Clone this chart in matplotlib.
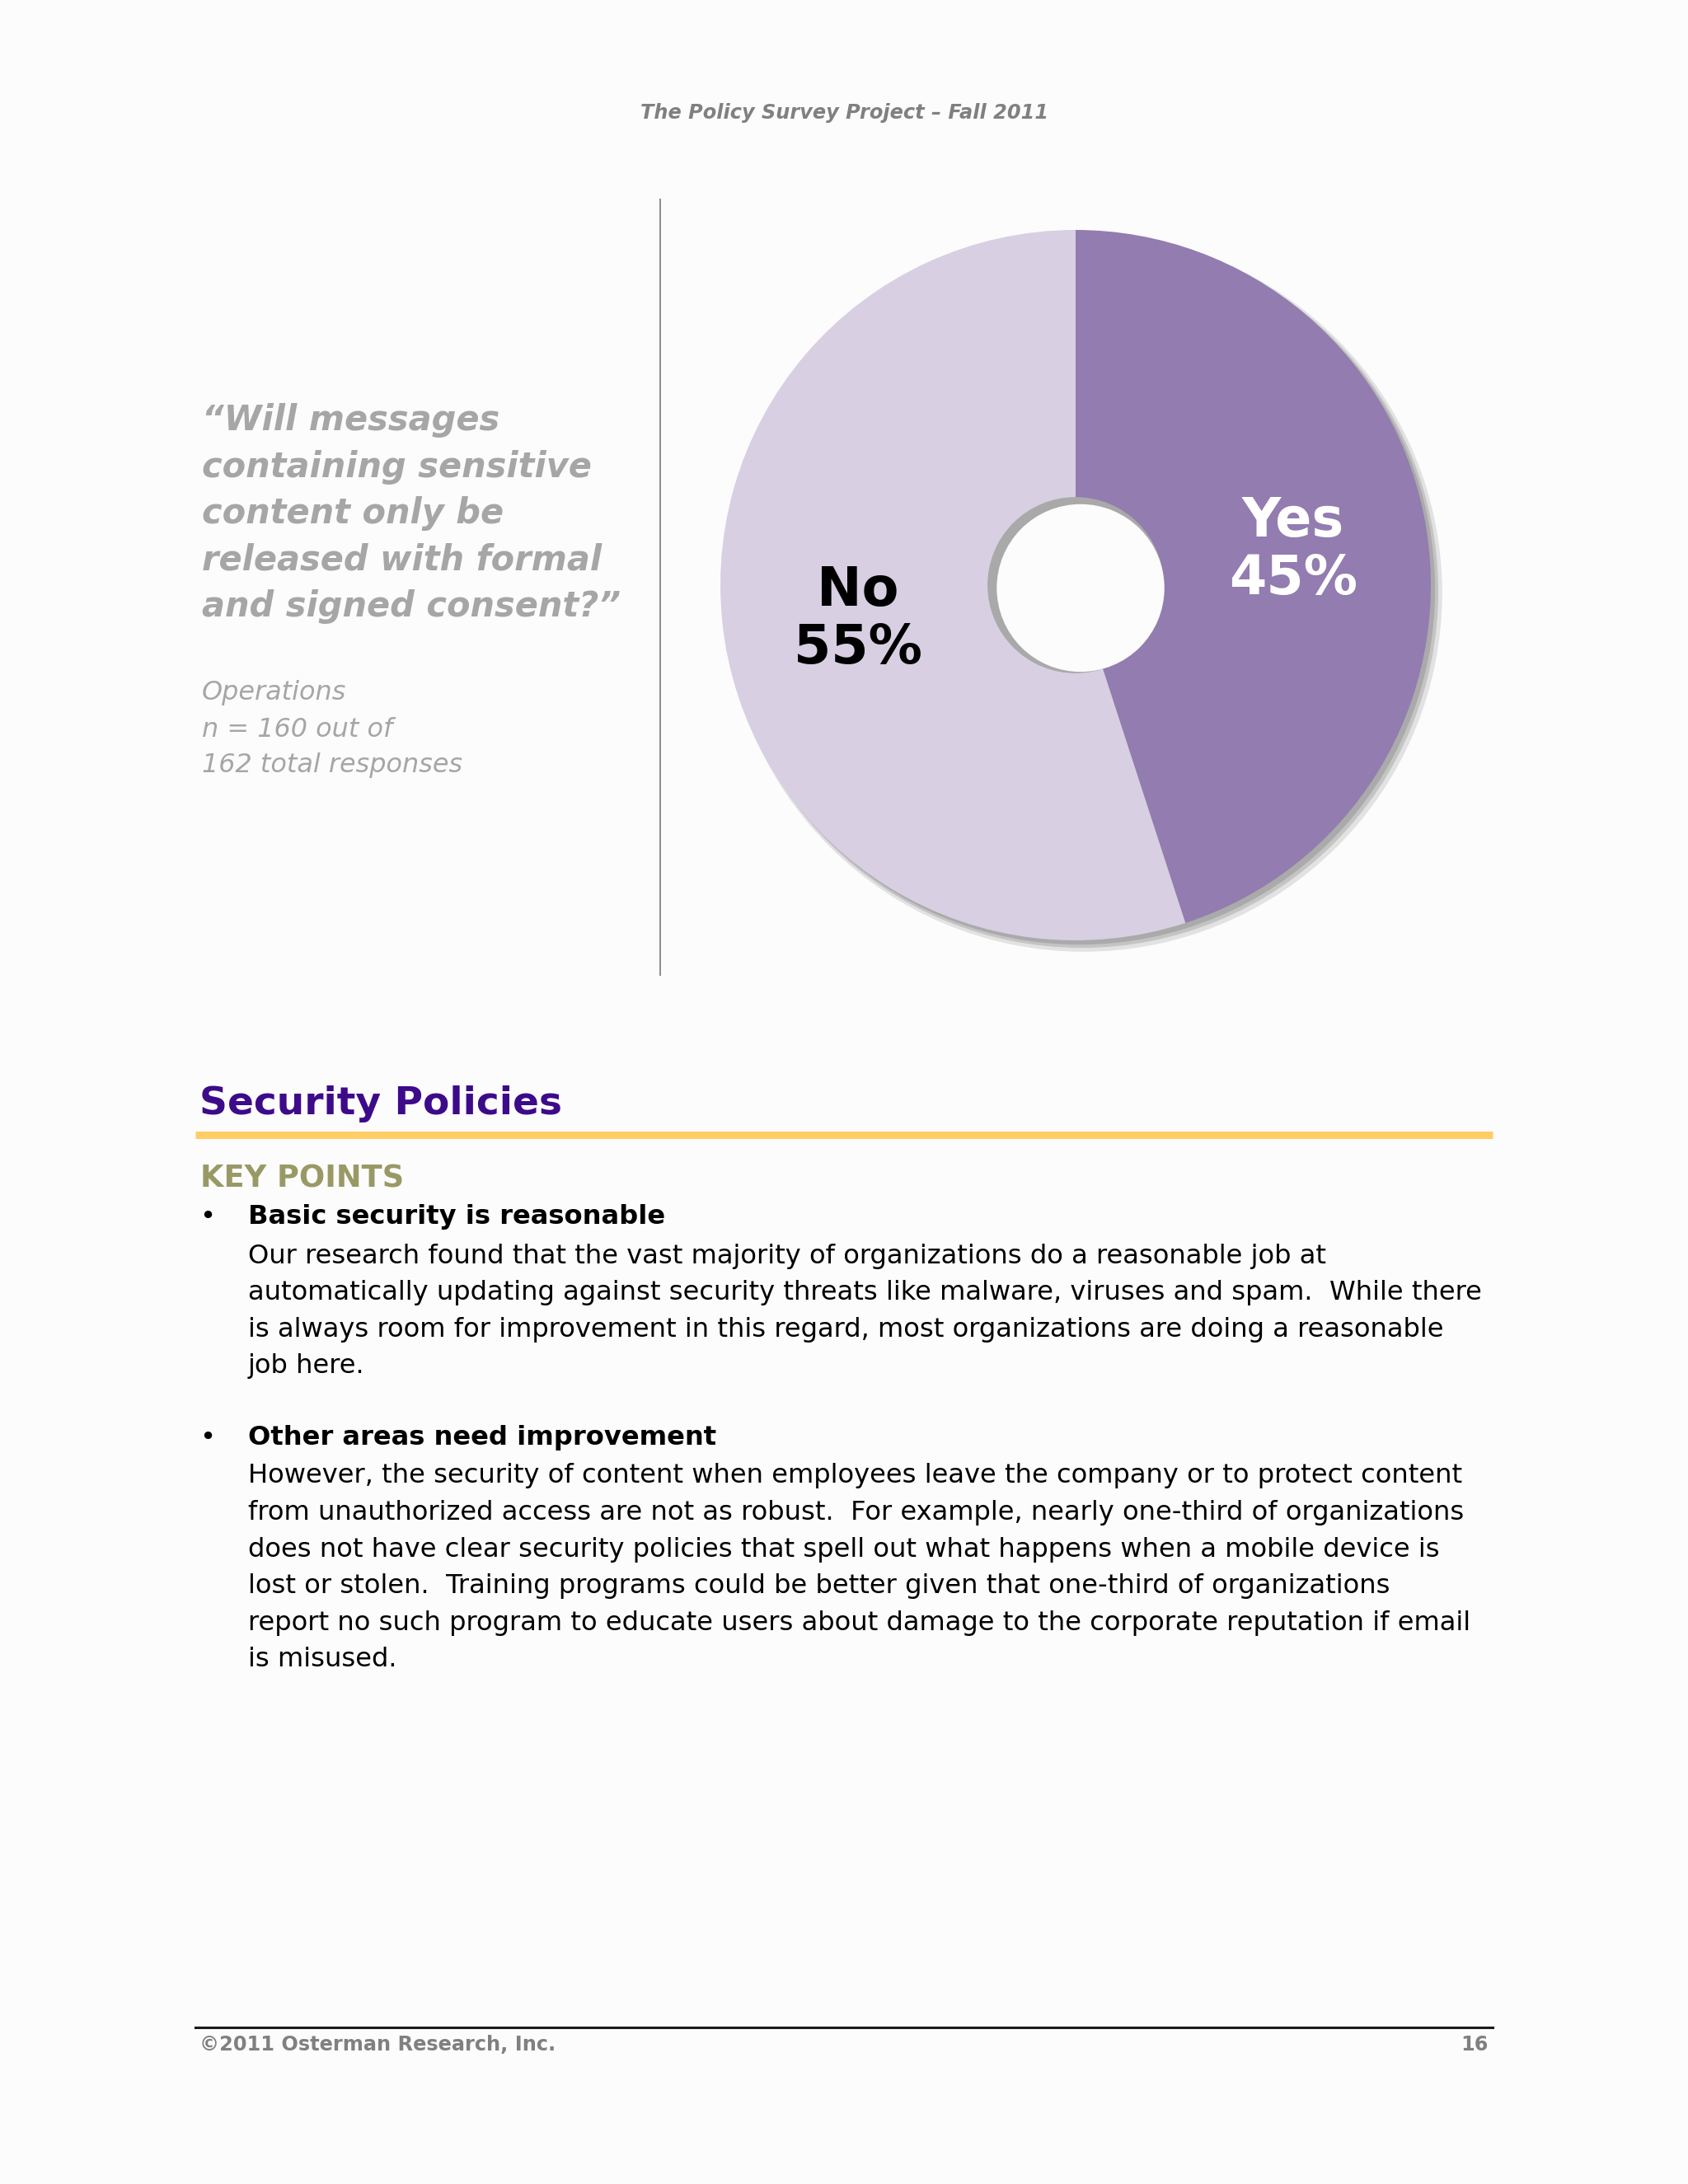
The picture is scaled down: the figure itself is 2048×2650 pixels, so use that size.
import numpy as np
import matplotlib
matplotlib.use("Agg")
import matplotlib.pyplot as plt
from matplotlib.patches import Circle
from matplotlib.lines import Line2D

W, H = 2048, 2650

answers = ["Yes", "No"]
shares = [45, 55]
slice_colors = ["#927cb0", "#d8cfe3"]
label_colors = ["white", "black"]

header = "The Policy Survey Project – Fall 2011"
question = ["“Will messages", "containing sensitive", "content only be",
            "released with formal", "and signed consent?”"]
sample = ["Operations", "n = 160 out of", "162 total responses"]
section = "Security Policies"
keypoints = "KEY POINTS"
bullet_heads = ["Basic security is reasonable", "Other areas need improvement"]
bullet_bodies = [
    ["Our research found that the vast majority of organizations do a reasonable job at",
     "automatically updating against security threats like malware, viruses and spam.  While there",
     "is always room for improvement in this regard, most organizations are doing a reasonable",
     "job here."],
    ["However, the security of content when employees leave the company or to protect content",
     "from unauthorized access are not as robust.  For example, nearly one-third of organizations",
     "does not have clear security policies that spell out what happens when a mobile device is",
     "lost or stolen.  Training programs could be better given that one-third of organizations",
     "report no such program to educate users about damage to the corporate reputation if email",
     "is misused."],
]
footer_left = "©2011 Osterman Research, Inc."
footer_right = "16"

bg = "#fdfcfd"
fig = plt.figure(figsize=(W / 100, H / 100), dpi=100, facecolor=bg)
renderer = fig.canvas.get_renderer()


def px(x, y):
    return x / W, 1 - y / H


def put(x, y, s, **kw):
    kw.setdefault("va", "center")
    kw.setdefault("family", "DejaVu Sans")
    return fig.text(*px(x, y), s, **kw)


def fit(t, width):
    # scale the font so the line is as wide as in the page
    w = t.get_window_extent(renderer).width
    t.set_fontsize(t.get_fontsize() * width / w)
    return t.get_fontsize()


# header
t = put(1025, 137, header, ha="center", weight="bold", style="italic", color="#808080", fontsize=20)
fit(t, 495)

# separator
fig.add_artist(Line2D([801 / W] * 2, [1 - 242 / H, 1 - 1183 / H], color="#8c8c8c", lw=1.4))

# question block
t = put(245, 676, question[3], weight="bold", style="italic", color="#a6a6a6", fontsize=30)
qsize = fit(t, 485)
t.remove()
for i, line in enumerate(question):
    put(245, 510 + i * 56.5, line, weight="bold", style="italic", color="#a6a6a6", fontsize=qsize)

t = put(245, 928, sample[2], style="italic", color="#a6a6a6", fontsize=20)
ssize = fit(t, 316)
t.remove()
for i, line in enumerate(sample):
    put(245, 841 + i * 44, line, style="italic", color="#a6a6a6", fontsize=ssize)

# pie
cx, cy, r = 1305, 710, 431
half = r * 1.1
ax = fig.add_axes([(cx - half) / W, 1 - (cy + half) / H, 2 * half / W, 2 * half / H])
for off, rad, col in [(0.022, 1.01, "#e2e2e2"), (0.017, 1.004, "#c4c4c4"), (0.012, 1.0, "#aaaaaa")]:
    ax.add_patch(Circle((off, -off), rad, fc=col, ec="none", zorder=0))
wedges, _ = ax.pie(shares, colors=slice_colors, startangle=90, counterclock=False,
                   radius=1, wedgeprops=dict(linewidth=0))
for w in wedges:
    w.set_zorder(2)
ax.add_patch(Circle((0, 0), 0.248, fc="#a9a9a9", ec="none", zorder=3))
ax.add_patch(Circle((0.014, -0.008), 0.236, fc=bg, ec="none", zorder=4))
for w, name, share, c in zip(wedges, answers, shares, label_colors):
    ang = np.deg2rad((w.theta1 + w.theta2) / 2)
    ax.text(0.62 * np.cos(ang), 0.62 * np.sin(ang), f"{name}\n{share}%", ha="center", va="center",
            fontsize=47, weight="bold", color=c, linespacing=1.12, zorder=5)
ax.set_xlim(-1.1, 1.1)
ax.set_ylim(-1.1, 1.1)
ax.axis("off")

# section
t = put(242, 1340, section, weight="bold", color="#3d0a8a", fontsize=30)
fit(t, 439)
fig.add_artist(Line2D([237 / W, 1811 / W], [1 - 1377 / H] * 2, color="#ffcc66", lw=6.5,
                      solid_capstyle="butt"))
t = put(243, 1430, keypoints, weight="bold", color="#999966", fontsize=24)
fit(t, 248)

t = put(301, 1568, bullet_bodies[0][1], color="black", fontsize=20)
bsize = fit(t, 1500)
t.remove()
head_y = [1477, 1744]
for hy, head, body in zip(head_y, bullet_heads, bullet_bodies):
    put(242, hy, "•", color="black", fontsize=bsize)
    put(301, hy, head, weight="bold", color="black", fontsize=bsize)
    for j, line in enumerate(body):
        put(301, hy + 47 + j * 44.6, line, color="black", fontsize=bsize)

# footer
fig.add_artist(Line2D([237 / W, 1811 / W], [1 - 2460 / H] * 2, color="#1a1a1a", lw=2.2))
t = put(242, 2481, footer_left, weight="bold", color="#808080", fontsize=18)
fsize = fit(t, 433)
put(1806, 2481, footer_right, ha="right", weight="bold", color="#808080", fontsize=fsize)

fig.savefig("out.png", dpi=100, facecolor=bg)
